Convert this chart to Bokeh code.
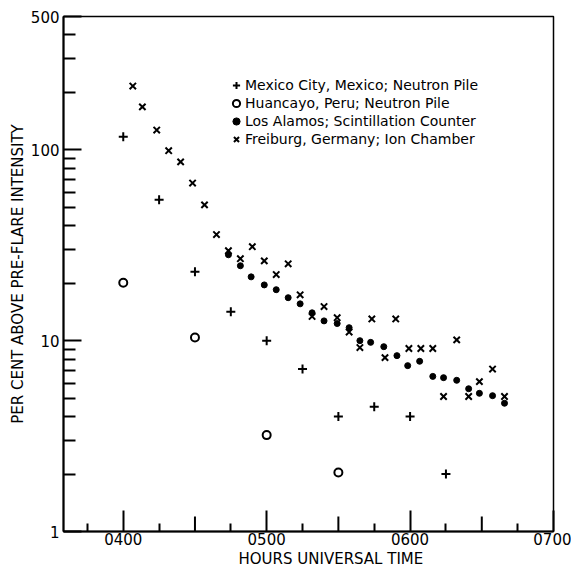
import math
from bokeh.plotting import figure
from bokeh.models import FixedTicker, Legend, LegendItem, Range1d, Title
from bokeh.embed import file_html
from bokeh.resources import INLINE

# ---- data (minutes after 0400 UT, per cent above pre-flare intensity) ----
mexico_min = [0, 15, 30, 45, 60, 75, 90, 105, 120, 135]
mexico_val = [117, 54.7, 23, 14.2, 10.0, 7.1, 4.0, 4.5, 4.0, 2.0]

huancayo_min = [0, 30, 60, 90]
huancayo_val = [20.1, 10.4, 3.2, 2.04]

losalamos_min = [44, 49, 53.5, 59, 64, 69, 74, 79, 84, 89.5, 94.5, 99, 103.5, 109,
                 114.5, 119, 124, 129.5, 134, 139.5, 144.5, 149, 154.5, 159.5]
losalamos_val = [28.2, 24.7, 21.6, 19.6, 18.5, 16.8, 15.6, 14.0, 12.7, 12.3, 11.7, 10.0,
                 9.8, 9.3, 8.35, 7.4, 7.8, 6.5, 6.4, 6.2, 5.6, 5.3, 5.15, 4.7]

freiburg_min = [4, 8, 14, 19, 24, 29, 34, 39, 44, 49, 54, 59, 64, 69, 74, 79, 84, 89.5,
                94.5, 99, 104, 109.5, 114, 119.5, 124.5, 129.5, 134, 139.5, 144.5, 149,
                154.5, 159.5]
freiburg_val = [216, 168, 127, 99, 86.5, 67, 51.5, 36, 29.6, 26.9, 31.1, 26.2, 22.2, 25.3,
                17.4, 13.4, 15.1, 13.2, 11.1, 9.2, 13.0, 8.15, 13.0, 9.1, 9.1, 9.1, 5.1,
                10.1, 5.1, 6.1, 7.1, 5.1]

hour_ticks = [0, 60, 120, 180]
hour_labels = ["0400", "0500", "0600", "0700"]
half_hour_ticks = [-30, 30, 90, 150]
quarter_ticks = [-15, 15, 45, 75, 105, 135, 165]

y_major = [1, 10, 100, 500]
y_labels = ["1", "10", "100", "500"]
y_minor = [2, 3, 4, 5, 6, 7, 8, 9, 20, 30, 40, 50, 60, 70, 80, 90, 200, 300, 400]

labels = ["Mexico City, Mexico; Neutron Pile",
          "Huancayo, Peru; Neutron Pile",
          "Los Alamos; Scintillation Counter",
          "Freiburg, Germany; Ion Chamber"]

X_START, X_END = -25, 180
Y_START, Y_END = 1, 500

FONT = "DejaVu Sans"
INK = "black"

p = figure(width=571, height=567, y_axis_type="log",
           x_range=Range1d(X_START, X_END), y_range=Range1d(Y_START, Y_END),
           output_backend="svg", toolbar_location=None,
           min_border_left=63, min_border_right=18, min_border_top=16, min_border_bottom=10)

p.grid.visible = False
p.outline_line_color = INK
p.outline_line_width = 1.5
p.background_fill_color = "white"
p.border_fill_color = "white"

# x axis
xa = p.xaxis[0]
xa.ticker = FixedTicker(ticks=hour_ticks, minor_ticks=quarter_ticks)
xa.major_label_overrides = {t: l for t, l in zip(hour_ticks, hour_labels)}
xa.major_tick_in = 21
xa.major_tick_out = 0
xa.minor_tick_in = 8
xa.minor_tick_out = 0
xa.major_tick_line_width = 2
xa.minor_tick_line_width = 2
xa.axis_line_width = 2
xa.axis_line_color = INK
xa.major_tick_line_color = INK
xa.minor_tick_line_color = INK
xa.major_label_text_font = FONT
xa.major_label_text_font_size = "15px"
xa.major_label_text_color = INK
xa.major_label_standoff = 1

# x axis title, set to the right of centre as in the original
p.add_layout(Title(text="HOURS UNIVERSAL TIME", align="left", offset=175,
                   text_font=FONT, text_font_size="15px", text_font_style="normal",
                   text_color=INK, standoff=0), "below")

# y axis
ya = p.yaxis[0]
ya.ticker = FixedTicker(ticks=y_major, minor_ticks=y_minor)
ya.major_label_overrides = {t: l for t, l in zip(y_major, y_labels)}
ya.major_tick_in = 18
ya.major_tick_out = 0
ya.minor_tick_in = 12
ya.minor_tick_out = 0
ya.major_tick_line_width = 2
ya.minor_tick_line_width = 2
ya.axis_line_width = 2
ya.axis_line_color = INK
ya.major_tick_line_color = INK
ya.minor_tick_line_color = INK
ya.major_label_text_font = FONT
ya.major_label_text_font_size = "15px"
ya.major_label_text_color = INK
ya.major_label_standoff = 4
ya.axis_label = "PER CENT ABOVE PRE-FLARE INTENSITY"
ya.axis_label_text_font = FONT
ya.axis_label_text_font_size = "15px"
ya.axis_label_text_font_style = "normal"
ya.axis_label_text_color = INK
ya.axis_label_standoff = 1

# half-hour ticks (medium length) drawn from the bottom of the frame
p.ray(x=half_hour_ticks, y=[Y_START] * len(half_hour_ticks), length=15,
      length_units="screen", angle=math.pi / 2, line_color=INK, line_width=2)

r_mex = p.scatter(mexico_min, mexico_val, marker="cross", size=9,
                  line_color=INK, line_width=2)
r_hua = p.scatter(huancayo_min, huancayo_val, marker="circle", size=8,
                  line_color=INK, fill_color=None, line_width=2)
r_los = p.scatter(losalamos_min, losalamos_val, marker="circle", size=6,
                  line_color=INK, fill_color=INK)
r_fre = p.scatter(freiburg_min, freiburg_val, marker="x", size=9,
                  line_color=INK, line_width=2)

legend = Legend(items=[LegendItem(label=labels[0], renderers=[r_mex]),
                       LegendItem(label=labels[1], renderers=[r_hua]),
                       LegendItem(label=labels[2], renderers=[r_los]),
                       LegendItem(label=labels[3], renderers=[r_fre])],
                location=(164, 383), orientation="vertical",
                background_fill_alpha=0, border_line_alpha=0,
                padding=0, margin=0, spacing=0,
                glyph_width=18, glyph_height=18, label_height=18,
                label_standoff=0,
                label_text_font=FONT, label_text_font_size="14px",
                label_text_color=INK)
p.add_layout(legend, "center")

open("out.html", "w").write(file_html(p, INLINE))
